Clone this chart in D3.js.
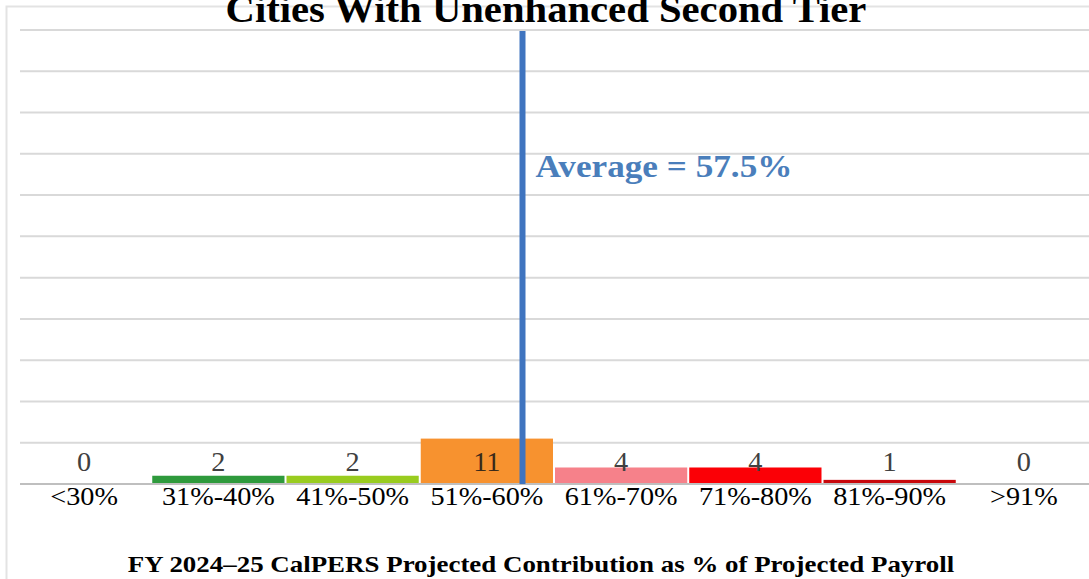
<!DOCTYPE html>
<html>
<head>
<meta charset="utf-8">
<script src="https://cdn.jsdelivr.net/npm/d3@7"></script>
<style>
body{margin:0;background:#fff;}
svg{display:block;font-family:"Liberation Serif","Times New Roman",serif;}
</style>
</head>
<body>
<svg></svg>
<script>
var width = 1089;
var height = 579;

var categories = ["<30%","31%-40%","41%-50%","51%-60%","61%-70%","71%-80%","81%-90%",">91%"];
var counts = [0,2,2,11,4,4,1,0];
var barColors = ["#2e9a3c","#2e9a3c","#99cc1f","#f7922f","#f6818a","#fb0006","#c8070b","#c8070b"];
var yTicks = [0,10,20,30,40,50,60,70,80,90,100,110];
var averagePct = 57.5;

// the source picture is a bit wider than tall, so stretch texts sideways
function stretch(sel,k){
  sel.each(function(){
    var w = this.getComputedTextLength();
    d3.select(this)
      .attr("textLength",w*k)
      .attr("lengthAdjust","spacingAndGlyphs")
  })
}

var svg = d3.select("svg")
            .attr("width",width)
            .attr("height",height)

svg.append("rect")
   .attr("x",6.5).attr("y",6.5)
   .attr("width",width+10).attr("height",height+10)
   .attr("fill","none")
   .attr("stroke","#e3e3e3")
   .attr("stroke-width",2)

var x = d3.scaleBand()
          .domain(categories)
          .range([18,1090])
          .paddingInner(0.015)

// percent scale for the average marker, one band = 10 points
var xPct = d3.scaleLinear()
             .domain([20,100])
             .range([18,1090])

var y = d3.scaleLinear()
          .domain([0,110])
          .range([484,30])

svg.append("g")
   .selectAll("line")
   .data(yTicks.slice(1))
   .enter()
   .append("line")
   .attr("x1",20)
   .attr("x2",width)
   .attr("y1",d=>y(d))
   .attr("y2",d=>y(d))
   .attr("stroke","#d9d9d9")
   .attr("stroke-width",2)

svg.append("g")
   .selectAll("rect")
   .data(counts)
   .enter()
   .append("rect")
   .attr("x",(d,i)=>x(categories[i]))
   .attr("width",x.bandwidth())
   .attr("y",d=>y(d))
   .attr("height",d=>y(0)-y(d))
   .attr("fill",(d,i)=>barColors[i])

svg.append("line")
   .attr("x1",20).attr("x2",width)
   .attr("y1",y(0)).attr("y2",y(0))
   .attr("stroke","#bfbfbf")
   .attr("stroke-width",2)

svg.append("line")
   .attr("x1",xPct(averagePct)+2).attr("x2",xPct(averagePct)+2)
   .attr("y1",y(110)+1).attr("y2",y(0))
   .attr("stroke","#3f74bf")
   .attr("stroke-width",6)

svg.append("text")
   .attr("x",xPct(averagePct)+15)
   .attr("y",177)
   .attr("fill","#4a7ebb")
   .attr("font-weight","bold")
   .attr("font-size",32)
   .text("Average = " + averagePct + "%")
   .call(stretch,1.1)

svg.append("g")
   .selectAll("text")
   .data(counts)
   .enter()
   .append("text")
   .attr("x",(d,i)=>x(categories[i])+x.bandwidth()/2)
   .attr("y",471)
   .attr("text-anchor","middle")
   .attr("font-size",27)
   .attr("fill",(d,i)=>i==3 ? "#3a2a1a" : "#404040")
   .text(d=>d)
   .call(stretch,1.05)

var xAxis = svg.append("g")
   .attr("transform","translate(0,"+y(0)+")")
   .call(d3.axisBottom(x).tickSize(0).tickPadding(0))
xAxis.select(".domain").remove()
xAxis.selectAll("text")
     .attr("font-family","Liberation Serif, Times New Roman, serif")
     .attr("font-size",25)
     .attr("fill","#000")
     .attr("y",21)
     .attr("dy",null)
     .call(stretch,1.13)

svg.append("text")
   .attr("x",546)
   .attr("y",22)
   .attr("text-anchor","middle")
   .attr("font-weight","bold")
   .attr("font-size",38)
   .text("Cities With Unenhanced Second Tier")
   .call(stretch,1.07)

svg.append("text")
   .attr("x",541)
   .attr("y",572)
   .attr("text-anchor","middle")
   .attr("font-weight","bold")
   .attr("font-size",23)
   .text("FY 2024\u201325 CalPERS Projected Contribution as % of Projected Payroll")
   .call(stretch,1.17)
</script>
</body>
</html>
